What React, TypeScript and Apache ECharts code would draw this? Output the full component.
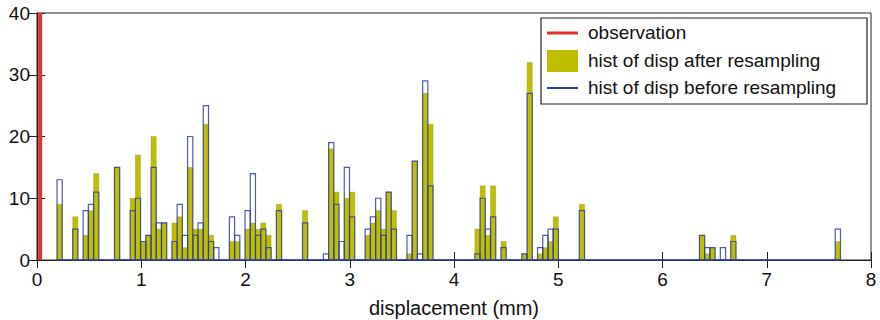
import React, { useEffect, useRef } from "react";
import * as echarts from "echarts";

// Histogram bins (index of bin, counts)
const BIN_START = 0.192;
const BIN_W = 0.0501;
const binIdx = [0, 3, 5, 6, 7, 11, 14, 15, 16, 17, 18, 19, 20, 22, 23, 24, 25, 26, 27, 28, 29, 30, 33, 34, 36, 37, 38, 39, 40, 42, 47, 51, 52, 53, 54, 55, 56, 59, 60, 61, 62, 63, 64, 67, 68, 69, 70, 71, 80, 81, 82, 83, 85, 89, 90, 92, 93, 94, 95, 100, 123, 124, 125, 127, 129, 149];
const afterCounts = [9, 7, 4, 8, 14, 15, 10, 17, 3, 4, 20, 5, 6, 6, 7, 2, 15, 5, 5, 22, 4, 0, 3, 3, 5, 6, 5, 6, 4, 9, 8, 0, 18, 11, 0, 10, 11, 4, 6, 8, 5, 11, 8, 1, 16, 0, 27, 22, 5, 12, 4, 12, 3, 1, 32, 1, 2, 3, 7, 9, 4, 1, 2, 0, 4, 3];
const beforeCounts = [13, 5, 8, 9, 11, 15, 8, 10, 3, 4, 15, 6, 6, 3, 9, 4, 20, 4, 6, 25, 3, 2, 7, 4, 8, 14, 4, 5, 2, 8, 6, 1, 19, 9, 3, 15, 7, 5, 7, 10, 4, 11, 5, 4, 16, 1, 29, 12, 1, 10, 5, 7, 2, 1, 27, 2, 4, 5, 5, 8, 4, 2, 2, 2, 3, 5];
const NUM_BINS = 150;
const OBS_X = 0.03;

const xTicks = ["0", "1", "2", "3", "4", "5", "6", "7", "8"];
const yTicks = ["0", "10", "20", "30", "40"];

const OLIVE = "#bfbf00";
const BLUE = "#2f3f9e";
const RED = "#e3322b";
const FONT = "'Liberation Sans', Helvetica, Arial, sans-serif";

export default function App() {
  const ref = useRef<HTMLDivElement>(null);
  useEffect(() => {
    if (!ref.current) return;
    const chart = echarts.init(ref.current, null, { renderer: "svg" });
    const afterData = binIdx.map((k, i) => [BIN_START + k * BIN_W, BIN_START + (k + 1) * BIN_W, afterCounts[i]]);
    const beforeData = binIdx.map((k, i) => [BIN_START + k * BIN_W, BIN_START + (k + 1) * BIN_W, beforeCounts[i]]);
    const mkRender = (filled: boolean) => (params: any, api: any) => {
      const h = api.value(2);
      if (!h) return null;
      const p0 = api.coord([api.value(0), h]);
      const p1 = api.coord([api.value(1), 0]);
      return {
        type: "rect",
        shape: { x: p0[0], y: p0[1], width: p1[0] - p0[0], height: p1[1] - p0[1] },
        style: filled
          ? { fill: OLIVE, stroke: "rgba(120,120,60,0.35)", lineWidth: 0.8 }
          : { fill: "none", stroke: BLUE, lineWidth: 1.2, opacity: 0.85 },
      };
    };
    const axisCommon = {
      min: 0,
      axisLine: { show: true, lineStyle: { color: "#222", width: 1 } },
      splitLine: { show: false },
    };
    chart.setOption({
      animation: false,
      grid: {
        left: 37, right: 9, top: 13, bottom: 60,
        containLabel: false, outerBoundsMode: "none",
        show: true, borderColor: "#222", borderWidth: 1, backgroundColor: "transparent",
      },
      xAxis: [
        {
          ...axisCommon,
          type: "value",
          max: 8,
          interval: 1,
          position: "bottom",
          axisTick: { show: true, inside: true, length: 8, lineStyle: { color: "#222" } },
          axisLabel: { color: "#111", fontSize: 19, fontFamily: FONT, margin: 10, formatter: (v: number) => xTicks[Math.round(v)] ?? "" },
          name: "displacement (mm)",
          nameLocation: "middle",
          nameGap: 38,
          nameTextStyle: { color: "#111", fontSize: 20, fontFamily: FONT },
        },
        {
          ...axisCommon,
          type: "value",
          max: 8,
          interval: 1,
          position: "top",
          axisTick: { show: true, inside: true, length: 8, lineStyle: { color: "#222" } },
          axisLabel: { show: false },
        },
      ],
      yAxis: [
        {
          ...axisCommon,
          type: "value",
          max: 40,
          interval: 10,
          position: "left",
          axisTick: { show: true, inside: true, length: 8, lineStyle: { color: "#222" } },
          axisLabel: { color: "#111", fontSize: 19, fontFamily: FONT, margin: 7, formatter: (v: number) => yTicks[Math.round(v / 10)] ?? "" },
        },
        {
          ...axisCommon,
          type: "value",
          max: 40,
          interval: 10,
          position: "right",
          axisTick: { show: true, inside: true, length: 8, lineStyle: { color: "#222" } },
          axisLabel: { show: false },
        },
      ],
      series: [
        {
          type: "custom",
          name: "hist of disp after resampling",
          renderItem: mkRender(true),
          encode: { x: [0, 1], y: 2 },
          data: afterData,
          z: 2,
        },
        {
          type: "custom",
          name: "hist of disp before resampling",
          renderItem: mkRender(false),
          encode: { x: [0, 1], y: 2 },
          data: beforeData,
          z: 3,
        },
        {
          type: "line",
          data: [[BIN_START, 0], [BIN_START + NUM_BINS * BIN_W, 0]],
          symbol: "none",
          lineStyle: { color: BLUE, width: 1.6 },
          z: 4,
        },
        {
          type: "line",
          name: "observation",
          data: [[OBS_X, 0], [OBS_X, 40]],
          symbol: "none",
          lineStyle: { color: RED, width: 4 },
          clip: false,
          z: 5,
        },
      ],
      graphic: [
        { type: "rect", z: 100, shape: { x: 541, y: 18, width: 326, height: 86 }, style: { fill: "#fff", stroke: "#222", lineWidth: 1.2 } },
        { type: "line", z: 101, shape: { x1: 547, y1: 33, x2: 578, y2: 33 }, style: { stroke: RED, lineWidth: 3 } },
        { type: "rect", z: 101, shape: { x: 547, y: 50, width: 31, height: 22 }, style: { fill: OLIVE } },
        { type: "line", z: 101, shape: { x1: 547, y1: 88, x2: 578, y2: 88 }, style: { stroke: BLUE, lineWidth: 2 } },
        { type: "text", z: 101, x: 588, y: 32, style: { text: "observation", fill: "#111", fontSize: 19, fontFamily: FONT, verticalAlign: "middle" } },
        { type: "text", z: 101, x: 588, y: 60, style: { text: "hist of disp after resampling", fill: "#111", fontSize: 19, fontFamily: FONT, verticalAlign: "middle" } },
        { type: "text", z: 101, x: 588, y: 87, style: { text: "hist of disp before resampling", fill: "#111", fontSize: 19, fontFamily: FONT, verticalAlign: "middle" } },
      ],
    });
    return () => chart.dispose();
  }, []);
  return <div ref={ref} style={{ width: 880, height: 320, position: "absolute", left: 0, top: 0 }} />;
}
